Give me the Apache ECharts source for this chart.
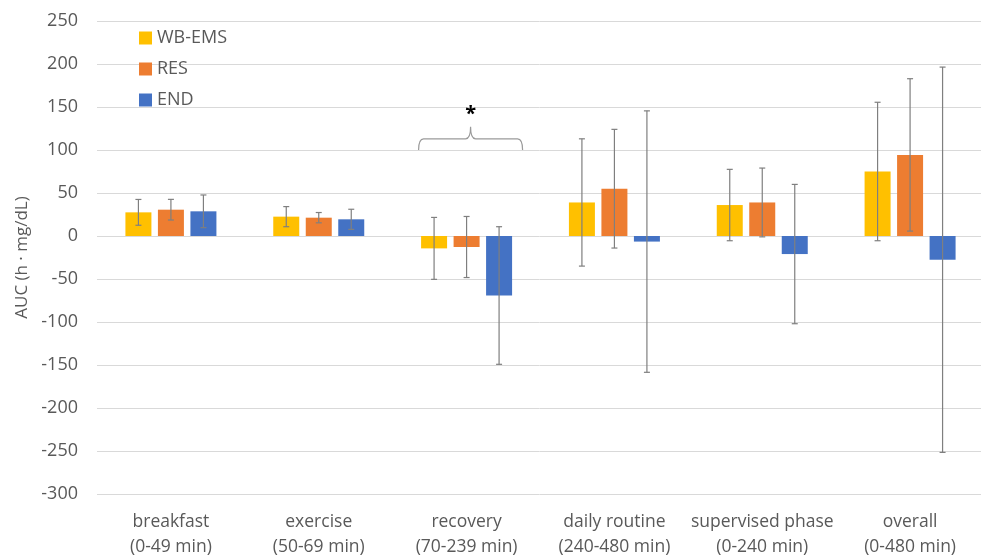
<!DOCTYPE html>
<html>
<head>
<meta charset="utf-8">
<script src="https://cdn.jsdelivr.net/npm/echarts@6/dist/echarts.min.js"></script>
<style>
  html, body { margin: 0; padding: 0; background: #fff; }
  #chart { width: 981px; height: 557px; }
</style>
</head>
<body>
<div id="chart"></div>
<script>
// Phases of the test day
const categories = [
  'breakfast\n(0-49 min)',
  'exercise\n(50-69 min)',
  'recovery\n(70-239 min)',
  'daily routine\n(240-480 min)',
  'supervised phase\n(0-240 min)',
  'overall\n(0-480 min)'
];

// Mean AUC per group (h · mg/dL)
const wbemsMean = [27.5, 22.5, -14.4, 39, 36, 75];
const resMean   = [30.6, 21.3, -12.8, 55, 39, 94.3];
const endMean   = [28.7, 19.4, -69.2, -6.5, -21, -27.6];

// Standard deviation (symmetric error bars)
const wbemsErr = [15, 11.7, 36, 74, 41.5, 80.5];
const resErr   = [12, 6, 35.5, 69, 40, 88.6];
const endErr   = [19, 11.7, 80, 152, 81, 224];

// Y axis range and step
const yMin = -300, yMax = 250, yStep = 50;

// Significance bracket over the recovery phase: [category, end, bar, peak, star]
const bracket = [[2, 100, 113, 127, 142]];

const colors = ['#FFC000', '#ED7D31', '#4472C4'];
const barW = 26, barGap = 6.5;
const offsets = [-(barW + barGap), 0, barW + barGap];

function errData(mean, err) {
  return mean.map((m, i) => [i, m - err[i], m + err[i]]);
}

function errSeries(mean, err, k) {
  return {
    type: 'custom',
    name: 'err' + k,
    z: 5,
    data: errData(mean, err),
    renderItem: function (params, api) {
      const lo = api.coord([api.value(0), api.value(1)]);
      const hi = api.coord([api.value(0), api.value(2)]);
      const x = lo[0] + offsets[k];
      const cap = 3;
      const style = { stroke: '#7f7f7f', lineWidth: 1.2 };
      return {
        type: 'group',
        children: [
          { type: 'line', shape: { x1: x, y1: lo[1], x2: x, y2: hi[1] }, style: style },
          { type: 'line', shape: { x1: x - cap, y1: lo[1], x2: x + cap, y2: lo[1] }, style: style },
          { type: 'line', shape: { x1: x - cap, y1: hi[1], x2: x + cap, y2: hi[1] }, style: style }
        ]
      };
    }
  };
}

const bracketSeries = {
  type: 'custom',
  name: 'bracket',
  z: 6,
  data: bracket,
  renderItem: function (params, api) {
    const c = api.value(0);
    const yEnd = api.coord([c, api.value(1)])[1];
    const yBar = api.coord([c, api.value(2)])[1];
    const yPeak = api.coord([c, api.value(3)])[1];
    const yStar = api.coord([c, api.value(4)])[1];
    const xc = api.coord([c, 0])[0] + 4;
    const xl = xc - 52, xr = xc + 52;
    const r = 5;
    const d =
      'M' + xl + ' ' + yEnd +
      ' Q' + xl + ' ' + yBar + ' ' + (xl + r) + ' ' + yBar +
      ' L' + (xc - r) + ' ' + yBar +
      ' Q' + xc + ' ' + yBar + ' ' + xc + ' ' + yPeak +
      ' Q' + xc + ' ' + yBar + ' ' + (xc + r) + ' ' + yBar +
      ' L' + (xr - r) + ' ' + yBar +
      ' Q' + xr + ' ' + yBar + ' ' + xr + ' ' + yEnd;
    return {
      type: 'group',
      children: [
        { type: 'path', shape: { pathData: d }, style: { fill: null, stroke: '#9a9a9a', lineWidth: 1.2 } },
        { type: 'text', x: xc, y: yStar, style: { text: '*', fill: '#000', font: 'bold 20px "Open Sans"', align: 'center', verticalAlign: 'middle' } }
      ]
    };
  }
};

const chart = echarts.init(document.getElementById('chart'), null, { renderer: 'canvas' });

const labelFont = '"Open Sans", sans-serif';

chart.setOption({
  animation: false,
  textStyle: { fontFamily: labelFont },
  grid: { left: 97, width: 887, top: 21, bottom: 63, containLabel: false, outerBoundsMode: 'none' },
  legend: {
    data: ['WB-EMS', 'RES', 'END'],
    orient: 'vertical',
    left: 134,
    top: 24,
    padding: 5,
    itemWidth: 13,
    itemHeight: 13,
    itemGap: 13,
    icon: 'rect',
    textStyle: { fontSize: 18, color: '#595959', lineHeight: 18, fontFamily: labelFont }
  },
  xAxis: {
    type: 'category',
    data: categories,
    axisLine: { show: false },
    axisTick: { show: false },
    axisLabel: { color: '#595959', fontSize: 17.5, lineHeight: 25, margin: 16, interval: 0, fontFamily: labelFont }
  },
  yAxis: {
    type: 'value',
    min: yMin,
    max: yMax,
    interval: yStep,
    name: 'AUC (h · mg/dL)',
    nameLocation: 'middle',
    nameGap: 61,
    nameTextStyle: { color: '#595959', fontSize: 17, fontFamily: labelFont },
    axisLine: { show: false },
    axisTick: { show: false },
    axisLabel: { color: '#595959', fontSize: 18, margin: 19, fontFamily: labelFont },
    splitLine: { lineStyle: { color: '#d9d9d9', width: 1 } }
  },
  series: [
    { name: 'WB-EMS', type: 'bar', data: wbemsMean, barWidth: barW, barGap: (barGap / barW * 100) + '%', itemStyle: { color: colors[0] } },
    { name: 'RES', type: 'bar', data: resMean, barWidth: barW, itemStyle: { color: colors[1] } },
    { name: 'END', type: 'bar', data: endMean, barWidth: barW, itemStyle: { color: colors[2] } },
    errSeries(wbemsMean, wbemsErr, 0),
    errSeries(resMean, resErr, 1),
    errSeries(endMean, endErr, 2),
    bracketSeries
  ]
});
</script>
</body>
</html>
